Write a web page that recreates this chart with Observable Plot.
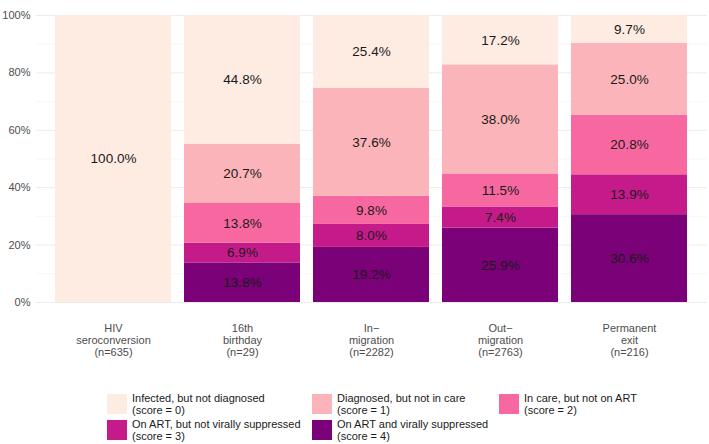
<!DOCTYPE html>
<html>
<head>
<meta charset="utf-8">
<script src="https://cdn.jsdelivr.net/npm/d3@7"></script>
<script src="https://cdn.jsdelivr.net/npm/@observablehq/plot@0.6"></script>
<style>
  body { margin: 0; background: #fff; font-family: Arial, "Liberation Sans", sans-serif; }
  #chart svg { display: block; }
  #legend {
    display: grid;
    grid-template-columns: 205px 187px auto;
    grid-auto-rows: 24px;
    row-gap: 2px;
    margin-left: 107px;
    margin-top: 12px;
    font-size: 11px;
    line-height: 12px;
    color: #1a1a1a;
  }
  .item { display: flex; align-items: center; }
  .key { width: 20px; height: 20px; flex: none; margin-right: 5px; }
  .lbl { white-space: pre; }
</style>
</head>
<body>
<div id="chart"></div>
<div id="legend"></div>
<script>
const categories = [
  "HIV\nseroconversion\n(n=635)",
  "16th\nbirthday\n(n=29)",
  "In\u2212\nmigration\n(n=2282)",
  "Out\u2212\nmigration\n(n=2763)",
  "Permanent\nexit\n(n=216)"
];
const stages = [
  "Infected, but not diagnosed\n(score = 0)",
  "Diagnosed, but not in care\n(score = 1)",
  "In care, but not on ART\n(score = 2)",
  "On ART, but not virally suppressed\n(score = 3)",
  "On ART and virally suppressed\n(score = 4)"
];
const colors = ["#feebe2", "#fbb4b9", "#f768a1", "#c51b8a", "#7a0177"];
const score0 = [100.0, 44.8, 25.4, 17.2, 9.7];
const score1 = [0, 20.7, 37.6, 38.0, 25.0];
const score2 = [0, 13.8, 9.8, 11.5, 20.8];
const score3 = [0, 6.9, 8.0, 7.4, 13.9];
const score4 = [0, 13.8, 19.2, 25.9, 30.6];
const yTicks = [0, 20, 40, 60, 80, 100];
const yMinor = [10, 30, 50, 70, 90];

const series = [score0, score1, score2, score3, score4];
const rows = [];
categories.forEach((cat, i) => {
  for (let s = 4; s >= 0; s--) {
    rows.push({cat, score: s, stage: stages[s], value: series[s][i]});
  }
});

const chart = Plot.plot({
  width: 709,
  height: 380,
  marginTop: 15,
  marginBottom: 78,
  marginLeft: 36,
  marginRight: 2,
  style: {fontFamily: "Arial, 'Liberation Sans', sans-serif", background: "#fff"},
  x: {domain: categories, paddingInner: 0.1, paddingOuter: 0.15, label: null},
  y: {domain: [0, 100], label: null},
  color: {domain: [0, 1, 2, 3, 4], range: colors, type: "ordinal"},
  marks: [
    Plot.gridY(yMinor, {stroke: "#f4f4f4", strokeOpacity: 1, strokeWidth: 0.7}),
    Plot.gridY(yTicks, {stroke: "#ebebeb", strokeOpacity: 1, strokeWidth: 1}),
    Plot.barY(rows, Plot.stackY({x: "cat", y: "value", fill: "score"})),
    Plot.text(rows, Plot.stackY({
      filter: d => d.value > 0,
      x: "cat", y: "value",
      text: d => d.value.toFixed(1) + "%",
      fontSize: 13.5, fill: "#1a1a1a"
    })),
    Plot.axisY({ticks: yTicks, tickSize: 0, tickPadding: 6, tickFormat: d => d + "%",
      fontSize: 11, fill: "#4d4d4d", label: null}),
    Plot.axisX({tickSize: 0, tickPadding: 21, fontSize: 11, lineHeight: 1.09,
      fill: "#4d4d4d", label: null})
  ]
});
document.getElementById("chart").appendChild(chart);

const legend = document.getElementById("legend");
stages.forEach((st, i) => {
  const item = document.createElement("div");
  item.className = "item";
  const key = document.createElement("div");
  key.className = "key";
  key.style.background = colors[i];
  const lbl = document.createElement("div");
  lbl.className = "lbl";
  lbl.textContent = st;
  item.appendChild(key);
  item.appendChild(lbl);
  legend.appendChild(item);
});
</script>
</body>
</html>
